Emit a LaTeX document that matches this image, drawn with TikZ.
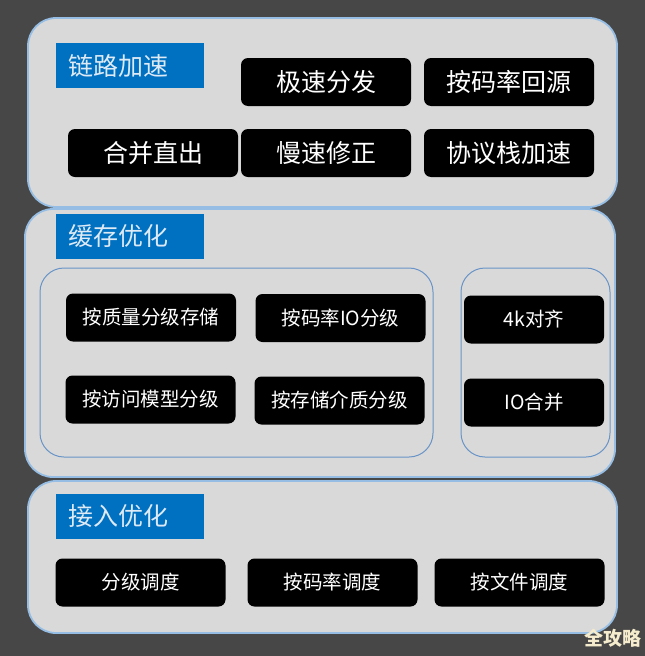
\documentclass[tikz,border=0pt]{standalone}
\usepackage{fontspec}
\setmainfont{Noto Sans CJK SC}
\usetikzlibrary{positioning}

\definecolor{bgdark}{RGB}{71,71,71}
\definecolor{panelgray}{RGB}{217,217,217}
\definecolor{panelblue}{RGB}{150,190,228}
\definecolor{subblue}{RGB}{105,148,200}
\definecolor{tagblue}{RGB}{0,112,192}
\definecolor{tagtext}{RGB}{222,234,246}
\definecolor{wmark}{RGB}{245,236,205}

\begin{document}
\begin{tikzpicture}[x=1pt,y=-1pt,
    panel/.style={draw=panelblue, line width=1.8pt, fill=panelgray, rounded corners=28pt},
    subpanel/.style={draw=subblue, line width=1pt, rounded corners=24pt},
    tag/.style={fill=tagblue, text=tagtext, font=\fontsize{25}{29}\selectfont, anchor=west,
        text width=124pt, align=left, inner xsep=12pt, minimum height=45pt},
    blk/.style={fill=black, text=white, rounded corners=7pt, minimum width=170pt,
        minimum height=48pt, font=\fontsize{19.5}{23}\selectfont},
    big/.style={font=\fontsize{25}{29}\selectfont}]

    \fill[bgdark] (0,0) rectangle (645,656);

    % link acceleration
    \draw[panel] (28,18) rectangle (617,207);
    \node[tag] (lianlu) at (56,65.5) {链路加速};
    \node[blk,big] (jisu) at (326,82) {极速分发};
    \node[blk,big] (huiyuan) at (509,82) {按码率回源};
    \node[blk,big] (hebing) at (153,153) {合并直出};
    \node[blk,big] (mansu) at (326,153) {慢速修正};
    \node[blk,big] (xieyi) at (509,153) {协议栈加速};

    % cache optimisation
    \draw[panel] (25,209) rectangle (615,477);
    \node[tag] (huancun) at (56,236.5) {缓存优化};
    \draw[subpanel] (40,268) rectangle (433,457);
    \draw[subpanel] (461,268) rectangle (610,457);
    \node[blk] (zhiliang) at (151,317.5) {按质量分级存储};
    \node[blk] (malv) at (340.5,318) {按码率IO分级};
    \node[blk] (fangwen) at (150.5,399.5) {按访问模型分级};
    \node[blk] (jiezhi) at (339.5,400.5) {按存储介质分级};
    \node[blk,minimum width=140pt] (duiqi) at (534,319.5) {4k对齐};
    \node[blk,minimum width=140pt] (iohb) at (534,402.5) {IO合并};

    % access optimisation
    \draw[panel] (28,481) rectangle (617,633);
    \node[tag] (jieru) at (56,516) {接入优化};
    \node[blk] (fenji) at (140.5,582.5) {分级调度};
    \node[blk] (malvdd) at (332.5,582.5) {按码率调度};
    \node[blk] (wenjian) at (519.5,582.5) {按文件调度};

    \node[text=wmark, font=\fontsize{19}{22}\selectfont\bfseries] (wm) at (613,638) {全攻略};

\end{tikzpicture}
\end{document}
